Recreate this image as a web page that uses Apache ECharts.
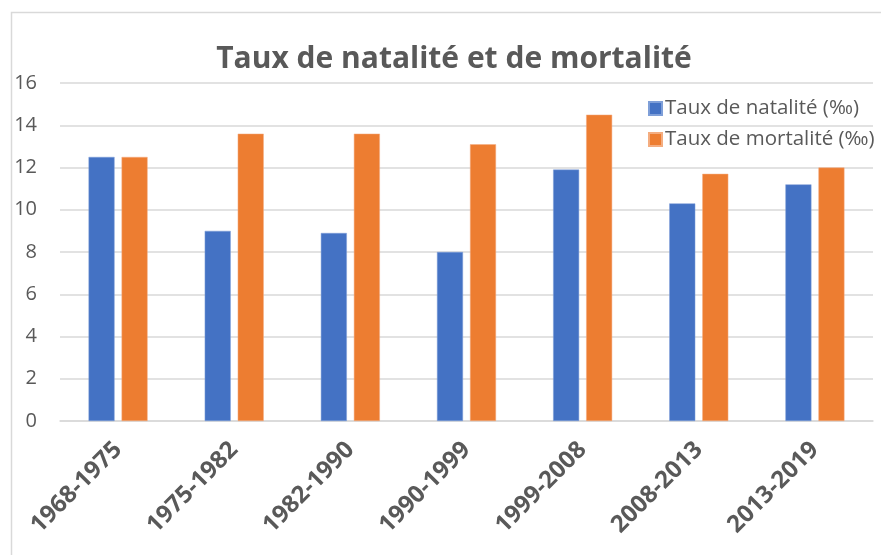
<!DOCTYPE html>
<html>
<head>
<meta charset="utf-8">
<script src="https://cdn.jsdelivr.net/npm/echarts@6/dist/echarts.min.js"></script>
<style>
html,body{margin:0;padding:0;background:#fff;}
#chart{width:881px;height:555px;}
</style>
</head>
<body>
<div id="chart"></div>
<script>
const categories = ['1968-1975','1975-1982','1982-1990','1990-1999','1999-2008','2008-2013','2013-2019'];
const natalite = [12.5, 9.0, 8.9, 8.0, 11.9, 10.3, 11.2];
const mortalite = [12.5, 13.6, 13.6, 13.1, 14.5, 11.7, 12.0];
const seriesNames = ['Taux de natalité (‰)', 'Taux de mortalité (‰)'];
const titleText = 'Taux de natalité et de mortalité';

const chart = echarts.init(document.getElementById('chart'), null, {renderer:'canvas'});
const font = '"Open Sans", "Noto Sans", sans-serif';
chart.setOption({
  animation: false,
  backgroundColor: '#fff',
  graphic: [{
    type: 'rect', left: 9, top: 10,
    shape: {width: 900, height: 600},
    style: {fill: 'none', stroke: '#d9d9d9', lineWidth: 1.5},
    silent: true
  }],
  title: {
    text: titleText,
    left: 449, top: 39, textAlign: 'center',
    textStyle: {fontFamily: font, fontWeight: 'bold', fontSize: 30, color: '#595959'}
  },
  legend: {
    orient: 'vertical',
    left: 643, top: 93,
    itemWidth: 13, itemHeight: 13, itemGap: 10,
    icon: 'rect',
    textStyle: {fontFamily: font, fontSize: 20.5, color: '#595959', padding: [0,0,0,-2]},
    data: seriesNames
  },
  grid: {left: 60, right: 8, top: 83, bottom: 134},
  xAxis: {
    type: 'category',
    data: categories,
    axisLine: {lineStyle: {color: '#d9d9d9', width: 1.5}},
    axisTick: {show: false},
    axisLabel: {
      rotate: 45, margin: 25, interval: 0,
      fontFamily: font, fontWeight: 'bold', fontSize: 24, color: '#595959'
    }
  },
  yAxis: {
    type: 'value', min: 0, max: 16, interval: 2,
    axisLine: {show: false}, axisTick: {show: false},
    splitLine: {lineStyle: {color: '#d9d9d9', width: 1.5}},
    axisLabel: {fontFamily: font, fontSize: 20, color: '#595959', margin: 23}
  },
  series: [
    {name: seriesNames[0], type: 'bar', data: natalite, barWidth: 26, barGap: '27%',
     itemStyle: {color: '#4472C4', borderColor: '#7f9fd8', borderWidth: 0.5}},
    {name: seriesNames[1], type: 'bar', data: mortalite, barWidth: 26,
     itemStyle: {color: '#ED7D31', borderColor: '#f4ad80', borderWidth: 0.5}}
  ]
});
</script>
</body>
</html>
